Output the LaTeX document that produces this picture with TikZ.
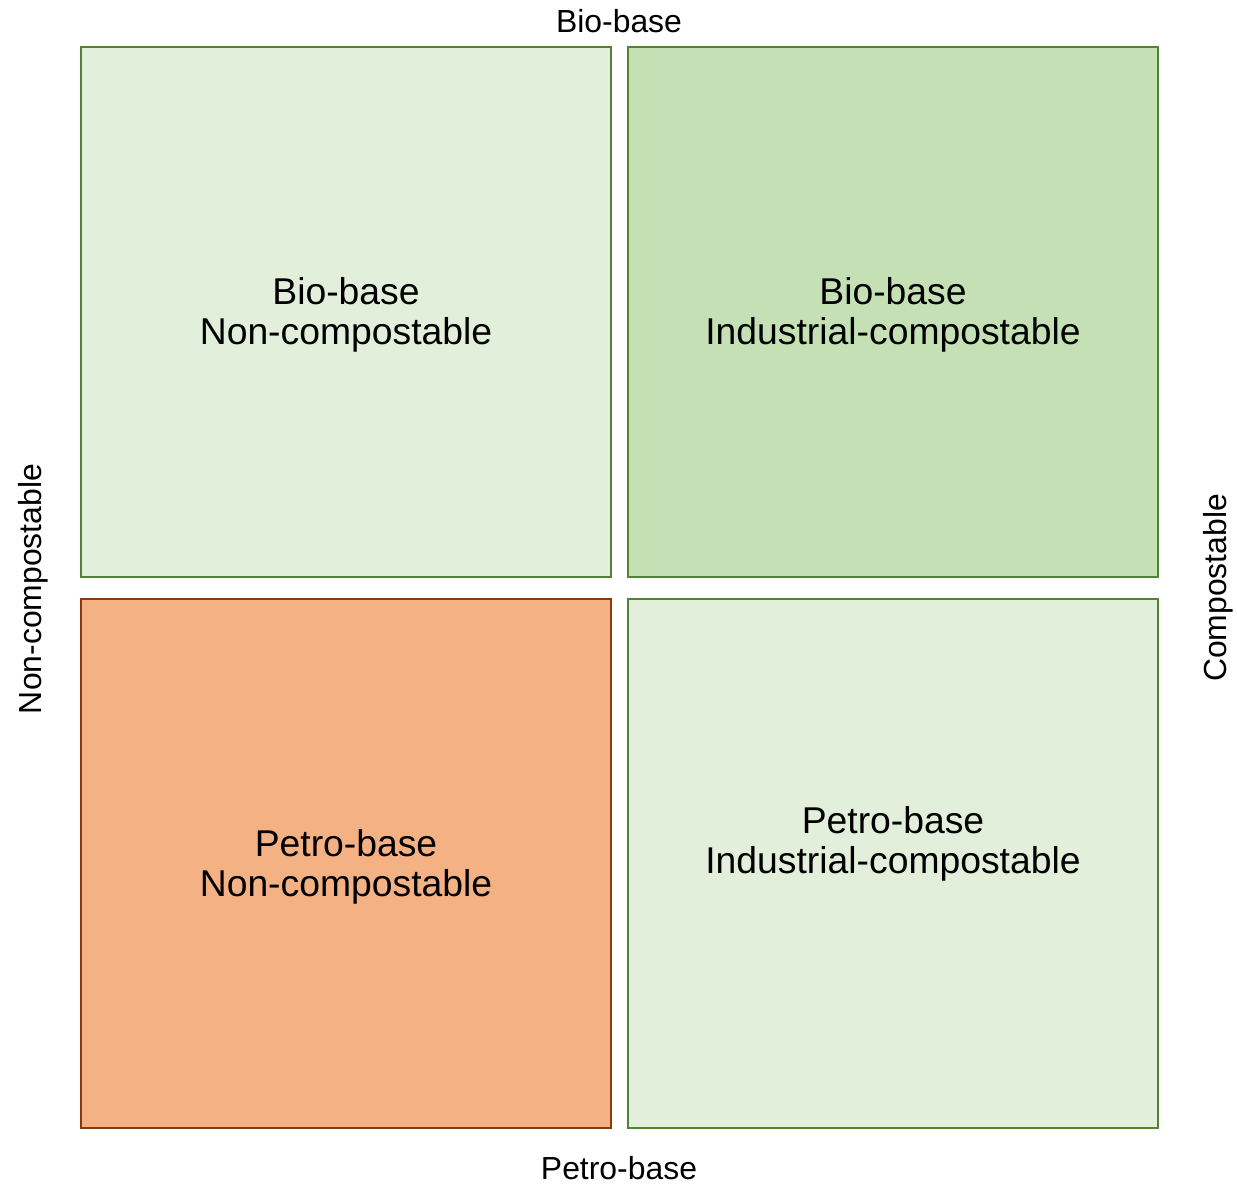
\documentclass[tikz,border=0pt]{standalone}
\usepackage{fontspec}
\setmainfont{Liberation Sans}
\definecolor{lightgreen}{HTML}{E2EFDA}
\definecolor{midgreen}{HTML}{C5E0B4}
\definecolor{greenline}{HTML}{548235}
\definecolor{peach}{HTML}{F4B183}
\definecolor{brownline}{HTML}{843C0C}
\begin{document}
\begin{tikzpicture}[x=1pt,y=-1pt,
  quad/.style={line width=2.5pt},
  greenquad/.style={quad,draw=greenline,fill=lightgreen},
  darkquad/.style={quad,draw=greenline,fill=midgreen},
  orangequad/.style={quad,draw=brownline,fill=peach},
  inner/.style={font=\fontsize{37.3}{40}\selectfont,anchor=base,inner sep=0pt},
  axis/.style={font=\fontsize{31.9}{36}\selectfont,anchor=base,inner sep=0pt}]
\useasboundingbox (0,0) rectangle (1237,1184);
\fill[white] (0,0) rectangle (1237,1184);
% four quadrants
\draw[greenquad]  (81,47)  rectangle (611,577);
\draw[darkquad]   (628,47) rectangle (1158,577);
\draw[orangequad] (81,599) rectangle (611,1128);
\draw[greenquad]  (628,599) rectangle (1158,1128);
% quadrant labels
\node[inner] (tl1) at (346,304) {Bio-base};
\node[inner] (tl2) at (346,344) {Non-compostable};
\node[inner] (tr1) at (893,304) {Bio-base};
\node[inner] (tr2) at (893,344) {Industrial-compostable};
\node[inner] (bl1) at (346,856) {Petro-base};
\node[inner] (bl2) at (346,896) {Non-compostable};
\node[inner] (br1) at (893,833) {Petro-base};
\node[inner] (br2) at (893,873) {Industrial-compostable};
% axis labels
\node[axis] (top) at (619,32) {Bio-base};
\node[axis] (bottom) at (619,1179) {Petro-base};
\node[axis,rotate=90] (left) at (41,589) {Non-compostable};
\node[axis,rotate=90] (right) at (1226,588) {Compostable};
\end{tikzpicture}
\end{document}
